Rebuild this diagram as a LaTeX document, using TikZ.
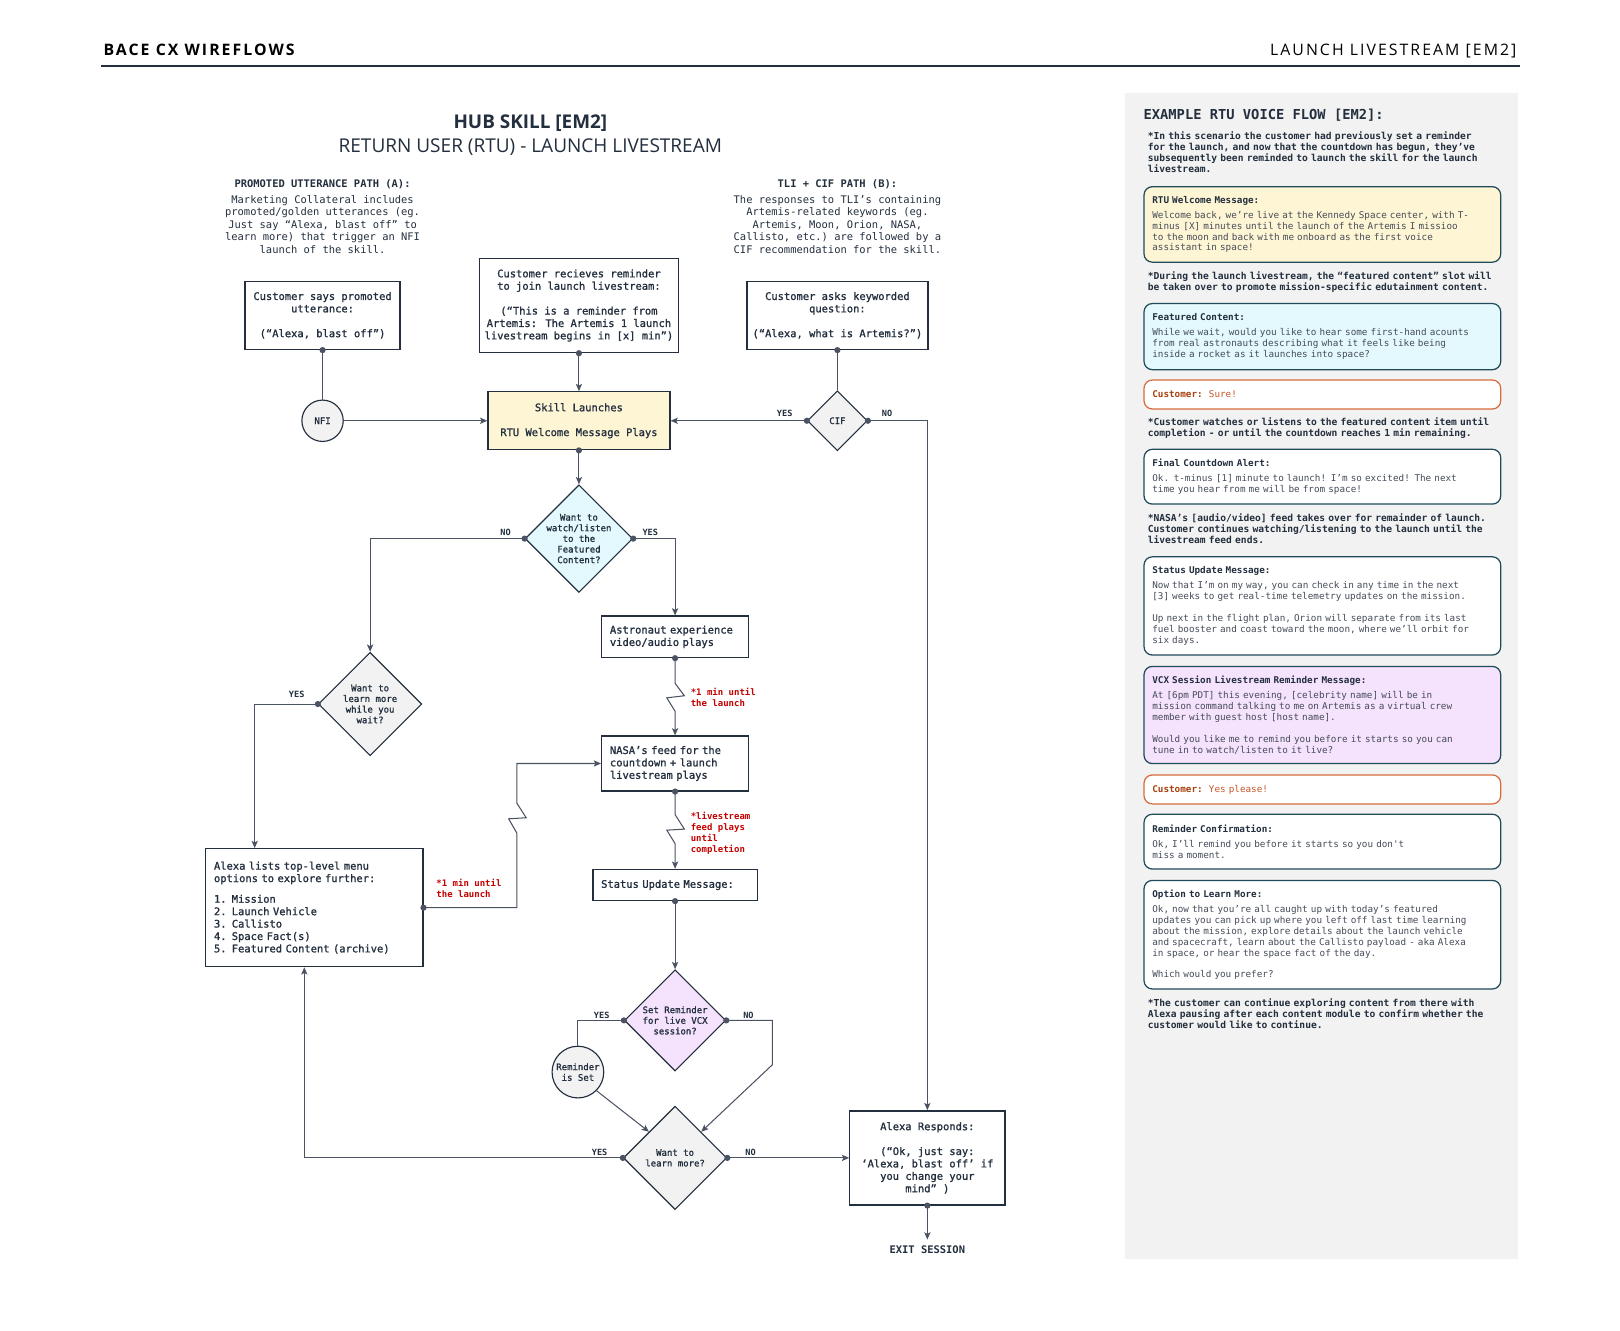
\documentclass[tikz,border=0pt]{standalone}
\usepackage{fontspec}
\setmainfont{Open Sans}
\setmonofont{DejaVu Sans Mono}
\newfontfamily\hdrfont[LetterSpace=13]{Open Sans}
\newfontfamily\mmono[FakeBold=1.2]{DejaVu Sans Mono}
\usetikzlibrary{arrows.meta,shapes.geometric}
\definecolor{ink}{HTML}{232F3E}
\definecolor{wire}{HTML}{4B5262}
\definecolor{redlab}{HTML}{C40000}
\definecolor{yel}{HTML}{FEF5D4}
\definecolor{cyn}{HTML}{E4F9FD}
\definecolor{pur}{HTML}{F5E2FC}
\definecolor{gry}{HTML}{F2F2F2}
\definecolor{panel}{HTML}{F2F2F2}
\definecolor{teal}{HTML}{1F4B5B}
\definecolor{org}{HTML}{D66C3E}
\definecolor{orgtxt}{HTML}{A8410F}
\definecolor{orglt}{HTML}{C8562A}
\definecolor{bodytx}{HTML}{454C59}
\newcommand{\bxf}{\mmono\fontsize{10.1}{12}\selectfont}
\newcommand{\dsf}{\ttfamily\fontsize{10.1}{12}\selectfont}
\newcommand{\dmf}{\mmono\fontsize{8.7}{10.3}\selectfont}
\newcommand{\lbf}{\ttfamily\bfseries\fontsize{8.3}{10}\selectfont}
\newcommand{\pnf}{\ttfamily\fontsize{9.0}{10.6}\selectfont}
\newcommand{\ntf}{\ttfamily\bfseries\fontsize{9.3}{10.6}\selectfont}
\newcommand{\rdf}{\ttfamily\bfseries\fontsize{8.7}{10.8}\selectfont}
\newcommand{\dotat}[1]{\fill[wire] (#1) circle[radius=3pt];}
\begin{document}
\begin{tikzpicture}[x=1pt,y=-1pt,
  box/.style={draw=ink,line width=1.3pt,fill=white,inner sep=0pt,font=\bxf,text=ink,align=center},
  lbox/.style={draw=ink,line width=1.3pt,fill=white,inner xsep=8pt,inner ysep=0pt,font=\bxf,text=ink,align=left},
  dia/.style={diamond,draw=ink,line width=1.1pt,inner sep=0pt,minimum width=#1,minimum height=#1},
  dtext/.style={font=\dmf,text=ink,align=center,inner sep=0pt},
  circ/.style={circle,draw=ink,line width=1.1pt,fill=gry,inner sep=0pt,minimum size=#1,font=\dmf,text=ink,align=center},
  wireline/.style={draw=wire,line width=1pt},
  arr/.style={wireline,-{Stealth[length=7pt,width=6pt,inset=1.5pt]}},
  yn/.style={font=\lbf,text=ink,inner sep=0pt},
  rl/.style={font=\rdf,text=redlab,align=left,anchor=north west,inner sep=0pt},
  desc/.style={align=center,font=\dsf,text=ink,inner sep=0pt,anchor=north},
  dh/.style={font=\ttfamily\bfseries\fontsize{10.1}{12}\selectfont,text=ink,inner sep=0pt},
  pbox/.style={draw=teal,line width=1.2pt,rounded corners=8pt,anchor=north west,text width=329pt,inner xsep=8pt,inner ysep=0pt,align=left,font=\pnf,text=bodytx,fill=white},
  cbox/.style={draw=org,line width=1.2pt,rounded corners=8pt,anchor=north west,text width=329pt,inner xsep=8pt,inner ysep=0pt,align=left,font=\pnf,fill=white,minimum height=28pt},
  note/.style={anchor=north west,inner sep=0pt,text width=345pt,align=left,font=\ntf,text=ink}
]
\useasboundingbox (0,0) rectangle (1567,1287);
\fill[white] (0,0) rectangle (1567,1287);

% header
\node[anchor=base west,font=\hdrfont\bfseries\fontsize{15.3}{18}\selectfont,text=black,inner sep=0pt] (h1) at (100,54) {BACE CX WIREFLOWS};
\node[anchor=base east,font=\hdrfont\fontsize{15.3}{18}\selectfont,text=black,inner sep=0pt] (h2) at (1467,54) {LAUNCH LIVESTREAM [EM2]};
\draw[line width=2pt,ink] (98,64) -- (1470,64);

% right panel background
\fill[panel] (1088,90) rectangle (1468,1218);

% titles
\node[font=\rmfamily\bfseries\fontsize{18.3}{21}\selectfont,text=ink,inner sep=0pt] (t1) at (513,119) {HUB SKILL [EM2]};
\node[font=\rmfamily\fontsize{18.4}{21}\selectfont,text=ink,inner sep=0pt] (t2) at (513,142) {RETURN USER (RTU) - LAUNCH LIVESTREAM};

% path descriptions
\node[dh] (pah) at (312,178) {PROMOTED UTTERANCE PATH (A):};
\node[desc] (pab) at (312,189) {Marketing Collateral includes\\promoted/golden utterances (eg.\\Just say “Alexa, blast off” to\\learn more) that trigger an NFI\\launch of the skill.};
\node[dh] (pbh) at (810,178) {TLI + CIF PATH (B):};
\node[desc] (pbb) at (810,189) {The responses to TLI’s containing\\Artemis-related keywords (eg.\\Artemis, Moon, Orion, NASA,\\Callisto, etc.) are followed by a\\CIF recommendation for the skill.};

% top boxes
\node[box,minimum width=150pt,minimum height=66pt] (boxA) at (312,305) {Customer says promoted\\utterance:\\[12pt](“Alexa, blast off”)};
\node[box,minimum width=192pt,minimum height=91pt] (boxR) at (560,295.5) {Customer recieves reminder\\to join launch livestream:\\[12pt](“This is a reminder from\\Artemis: The Artemis 1 launch\\livestream begins in [x] min”)};
\node[box,minimum width=175pt,minimum height=66pt] (boxB) at (810,305) {Customer asks keyworded\\question:\\[12pt](“Alexa, what is Artemis?”)};

\node[circ=40pt] (nfi) at (312,407) {NFI};
\node[box,fill=yel,minimum width=176pt,minimum height=56pt] (skill) at (560,407) {Skill Launches\\[12pt]RTU Welcome Message Plays};
\node[dia=58pt,fill=gry] (cif) at (810,407) {};
\node[dtext] (ciftx) at (810,407) {CIF};

\node[dia=104pt,fill=cyn] (fc) at (560,521) {};
\node[dtext] (fctx) at (560,521) {Want to\\watch/listen\\to the\\Featured\\Content?};

\node[lbox,text width=126pt,minimum height=40pt] (ast) at (653,616) {Astronaut experience\\video/audio plays};
\node[dia=100pt,fill=gry] (lw) at (358,681) {};
\node[dtext] (lwtx) at (358,681) {Want to\\learn more\\while you\\wait?};

\node[lbox,text width=126pt,minimum height=53pt] (nasa) at (653,738.5) {NASA’s feed for the\\countdown + launch\\livestream plays};
\node[lbox,text width=143pt,minimum height=30pt] (stat) at (653,856) {Status Update Message:};
\node[lbox,text width=194pt,minimum height=114pt] (menu) at (304,878) {Alexa lists top-level menu\\options to explore further:\\[8pt]1. Mission\\2. Launch Vehicle\\3. Callisto\\4. Space Fact(s)\\5. Featured Content (archive)};

\node[dia=98pt,fill=pur] (sr) at (653,987) {};
\node[dtext] (srtx) at (653,987) {Set Reminder\\for live VCX\\session?};
\node[circ=50pt] (rem) at (559,1037) {Reminder\\is Set};
\node[dia=100pt,fill=gry] (lm) at (653,1120) {};
\node[dtext] (lmtx) at (653,1120) {Want to\\learn more?};
\node[box,minimum width=150pt,minimum height=91pt] (resp) at (897,1120) {Alexa Responds:\\[12pt](“Ok, just say:\\‘Alexa, blast off’ if\\you change your\\mind” )};
\node[font=\ttfamily\bfseries\fontsize{10.1}{12}\selectfont,text=ink,inner sep=0pt] (exit) at (897,1209) {EXIT SESSION};

% connectors
\draw[wireline] (boxA.south) -- (nfi.north); \dotat{boxA.south}
\draw[arr] (nfi.east) -- (skill.west);
\draw[arr] (boxR.south) -- (skill.north); \dotat{boxR.south}
\draw[wireline] (boxB.south) -- (cif.north); \dotat{boxB.south}
\draw[arr] (cif.west) -- (skill.east); \dotat{cif.west}
\draw[arr] (cif.east) -| (resp.north); \dotat{cif.east}
\draw[arr] (skill.south) -- (fc.north); \dotat{skill.south}
\draw[arr] (fc.west) -| (lw.north); \dotat{fc.west}
\draw[arr] (fc.east) -| (ast.north); \dotat{fc.east}
\draw[arr] (ast.south) -- (653,661) -- (662,673) -- (645,675) -- (653,688) -- (nasa.north); \dotat{ast.south}
\draw[arr] (nasa.south) -- (653,788) -- (662,802) -- (645,803) -- (653,816) -- (stat.north); \dotat{nasa.south}
\draw[arr] (lw.west) -| ([xshift=48pt]menu.north west); \dotat{lw.west}
\draw[arr] (menu.east) -- (500,878) -- (500,806) -- (492,792) -- (509,791) -- (500,777) |- (nasa.west); \dotat{menu.east}
\draw[arr] (stat.south) -- (sr.north); \dotat{stat.south}
\draw[wireline] (sr.west) -| (rem.north); \dotat{sr.west}
\draw[arr] (sr.east) -| (747,1030) -- (lm.north east); \dotat{sr.east}
\draw[arr] (rem.south east) -- (lm.north west);
\draw[arr] (lm.west) -| ([xshift=96pt]menu.south west); \dotat{lm.west}
\draw[arr] (lm.east) -- (resp.west); \dotat{lm.east}
\draw[arr] (resp.south) -- ([yshift=6pt]exit.north); \dotat{resp.south}

% yes/no labels
\node[yn] (l1) at (759,400) {YES};
\node[yn] (l2) at (858,400) {NO};
\node[yn] (l3) at (489,515) {NO};
\node[yn] (l4) at (629,515) {YES};
\node[yn] (l5) at (287,672) {YES};
\node[yn] (l6) at (582,982) {YES};
\node[yn] (l7) at (724,982) {NO};
\node[yn] (l8) at (580,1115) {YES};
\node[yn] (l9) at (726,1115) {NO};

% red labels
\node[rl] (r1) at (668,665) {*1 min until\\the launch};
\node[rl] (r2) at (668,785) {*livestream\\feed plays\\until\\completion};
\node[rl] (r3) at (422,850) {*1 min until\\the launch};

% right panel
\node[anchor=west,font=\ttfamily\bfseries\fontsize{13.3}{16}\selectfont,text=ink,inner sep=0pt] (ph) at (1106,111) {EXAMPLE RTU VOICE FLOW [EM2]:};
\node[note] (n1) at (1110,127) {*In this scenario the customer had previously set a reminder\\for the launch, and now that the countdown has begun, they’ve\\subsequently been reminded to launch the skill for the launch\\livestream.};
\node[pbox,fill=yel,minimum height=73pt] (p1) at (1106,180) {\textcolor{ink}{\bfseries RTU Welcome Message:}\\[4pt]Welcome back, we’re live at the Kennedy Space center, with T-\\minus [X] minutes until the launch of the Artemis I missioo\\to the moon and back with me onboard as the first voice\\assistant in space!};
\node[note] (n2) at (1110,263) {*During the launch livestream, the “featured content” slot will\\be taken over to promote mission-specific edutainment content.};
\node[pbox,fill=cyn,minimum height=64pt] (p2) at (1106,293) {\textcolor{ink}{\bfseries Featured Content:}\\[4pt]While we wait, would you like to hear some first-hand acounts\\from real astronauts describing what it feels like being\\inside a rocket as it launches into space?};
\node[cbox] (p3) at (1106,367) {\textcolor{orgtxt}{\bfseries Customer:}\ \ \textcolor{orglt}{Sure!}};
\node[note] (n3) at (1110,404) {*Customer watches or listens to the featured content item until\\completion - or until the countdown reaches 1 min remaining.};
\node[pbox,minimum height=53pt] (p4) at (1106,434) {\textcolor{ink}{\bfseries Final Countdown Alert:}\\[4pt]Ok. t-minus [1] minute to launch! I’m so excited! The next\\time you hear from me will be from space!};
\node[note] (n4) at (1110,497) {*NASA’s [audio/video] feed takes over for remainder of launch.\\Customer continues watching/listening to the launch until the\\livestream feed ends.};
\node[pbox,minimum height=95pt] (p5) at (1106,538) {\textcolor{ink}{\bfseries Status Update Message:}\\[4pt]Now that I’m on my way, you can check in any time in the next\\{}[3] weeks to get real-time telemetry updates on the mission.\\[10.6pt]Up next in the flight plan, Orion will separate from its last\\fuel booster and coast toward the moon, where we’ll orbit for\\six days.};
\node[pbox,fill=pur,minimum height=94pt] (p6) at (1106,644) {\textcolor{ink}{\bfseries VCX Session Livestream Reminder Message:}\\[4pt]At [6pm PDT] this evening, [celebrity name] will be in\\mission command talking to me on Artemis as a virtual crew\\member with guest host [host name].\\[10.6pt]Would you like me to remind you before it starts so you can\\tune in to watch/listen to it live?};
\node[cbox] (p7) at (1106,749) {\textcolor{orgtxt}{\bfseries Customer:}\ \ \textcolor{orglt}{Yes please!}};
\node[pbox,minimum height=53pt] (p8) at (1106,787) {\textcolor{ink}{\bfseries Reminder Confirmation:}\\[4pt]Ok, I’ll remind you before it starts so you don't\\miss a moment.};
\node[pbox,minimum height=105pt] (p9) at (1106,851) {\textcolor{ink}{\bfseries Option to Learn More:}\\[4pt]Ok, now that you’re all caught up with today’s featured\\updates you can pick up where you left off last time learning\\about the mission, explore details about the launch vehicle\\and spacecraft, learn about the Callisto payload - aka Alexa\\in space, or hear the space fact of the day.\\[10.6pt]Which would you prefer?};
\node[note] (n5) at (1110,966) {*The customer can continue exploring content from there with\\Alexa pausing after each content module to confirm whether the\\customer would like to continue.};
\end{tikzpicture}
\end{document}
